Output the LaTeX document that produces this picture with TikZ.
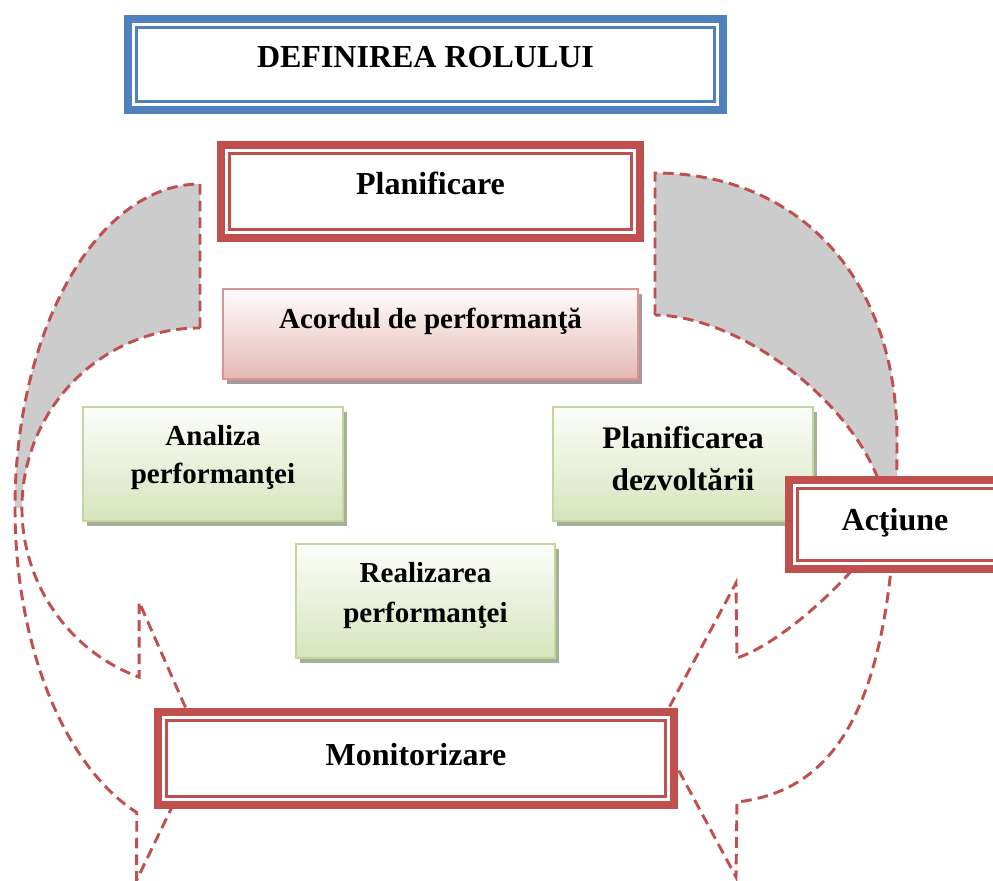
\documentclass[tikz,border=0pt]{standalone}
\usepackage{fontspec}
\setmainfont{Liberation Serif}
\usetikzlibrary{calc}

\definecolor{accred}{RGB}{192,80,77}
\definecolor{accblue}{RGB}{79,129,189}
\definecolor{bandgray}{RGB}{204,204,204}
\definecolor{pinkedge}{RGB}{217,149,148}
\definecolor{pinktop}{RGB}{254,252,252}
\definecolor{pinkbottom}{RGB}{229,184,183}
\definecolor{pinkshadow}{RGB}{172,152,152}
\definecolor{greenedge}{RGB}{195,214,155}
\definecolor{greentop}{RGB}{252,253,250}
\definecolor{greenbottom}{RGB}{215,228,189}
\definecolor{greenshadow}{RGB}{166,176,150}

\tikzset{
  framebox/.style={line width=6pt, fill=white, inner sep=0pt, outer sep=0pt},
  redframe/.style={framebox, draw=accred},
  blueframe/.style={framebox, draw=accblue},
  innerline/.style={line width=1.9pt},
  softbox/.style={inner sep=0pt, outer sep=0pt, line width=1.5pt},
  pinkbox/.style={softbox, draw=pinkedge, top color=pinktop, bottom color=pinkbottom,
    preaction={fill=pinkshadow, transform canvas={xshift=3pt, yshift=-3.5pt}}},
  greenbox/.style={softbox, draw=greenedge, top color=greentop, bottom color=greenbottom,
    preaction={fill=greenshadow, transform canvas={xshift=3pt, yshift=-3.5pt}}},
  bandline/.style={draw=accred, line width=2.2pt, dash pattern=on 8pt off 4.5pt},
  bigtext/.style={font=\bfseries\fontsize{24}{28}\selectfont, anchor=base, inner sep=0pt},
  midtext/.style={font=\bfseries\fontsize{21.75}{26}\selectfont, anchor=base, inner sep=0pt},
  devtext/.style={font=\bfseries\fontsize{23.5}{28}\selectfont, anchor=base, inner sep=0pt},
}

\begin{document}
\begin{tikzpicture}[x=0.75pt, y=-0.75pt]
  \useasboundingbox (0,0) rectangle (993,881);
  \clip (0,0) rectangle (993,881);
  \fill[white] (0,0) rectangle (993,881);

  % left curved band: shaded back face
  \fill[bandgray] (200,184) arc[start angle=-90, end angle=-180, x radius=185, y radius=324]
    -- (22,508) arc[start angle=180, end angle=270, x radius=178, y radius=180] -- cycle;
  % left curved band outline with arrowhead
  \draw[bandline] (200,328) -- (200,184)
    arc[start angle=-90, end angle=-250, x radius=185, y radius=324]
    -- (136.7,880) -- (202,745) -- (139.1,602) -- (139.1,677.1)
    arc[start angle=-250, end angle=-90, x radius=178, y radius=180];

  % right curved band: shaded back face
  \fill[bandgray] (655,173) .. controls (800,173) and (897,280) .. (897,440)
    -- (897,520) -- (888,520) .. controls (880,420) and (748,316) .. (655,315) -- cycle;
  % right curved band outline with arrowhead
  \draw[bandline] (655,315) -- (655,173)
    .. controls (800,173) and (897,280) .. (897,440)
    .. controls (897,700) and (840,790) .. (737,802)
    -- (736,877) -- (657,730) -- (736,583) -- (737,658)
    .. controls (790,640) and (870,560) .. (888,520)
    .. controls (880,420) and (748,316) .. (655,315);

  % framed stage boxes
  \node[blueframe, minimum width=446.25pt, minimum height=68.25pt] (role) at (425.5,64.5) {};
  \node[redframe, minimum width=314.25pt, minimum height=69.75pt] (plan) at (430.5,191.5) {};
  \node[redframe, minimum width=387pt, minimum height=69.75pt] (mon) at (416,758.5) {};

  % shaded activity boxes
  \node[pinkbox, minimum width=311.25pt, minimum height=67.5pt] (accord) at (430.5,334) {};
  \node[greenbox, minimum width=195pt, minimum height=85.5pt] (anal) at (213,464) {};
  \node[greenbox, minimum width=195pt, minimum height=85.5pt] (dev) at (683,464) {};
  \node[greenbox, minimum width=194.25pt, minimum height=85.5pt] (real) at (425.5,601) {};

  \node[redframe, minimum width=167.25pt, minimum height=66.75pt] (act) at (900.5,524.5) {};

  % thin inner lines of the framed boxes
  \draw[innerline, accblue] ([shift={(8.3,8.3)}]role.north west) rectangle ([shift={(-8.3,-8.3)}]role.south east);
  \foreach \n in {plan,mon,act}
    \draw[innerline, accred] ([shift={(8.3,8.3)}]\n.north west) rectangle ([shift={(-8.3,-8.3)}]\n.south east);

  % texts
  \node[bigtext] (troleA) at (425.5,68) {DEFINIREA ROLULUI};
  \node[bigtext] (tplan) at (430.5,195) {Planificare};
  \node[midtext] (taccord) at (430.5,328) {Acordul de performanţă};
  \node[midtext] (tanalA) at (213,445) {Analiza};
  \node[midtext] (tanalB) at (213,483) {performanţei};
  \node[devtext] (tdevA) at (683,448) {Planificarea};
  \node[devtext] (tdevB) at (683,490) {dezvoltării};
  \node[midtext] (trealA) at (425.5,582) {Realizarea};
  \node[midtext] (trealB) at (425.5,622) {performanţei};
  \node[bigtext] (tact) at (895,530) {Acţiune};
  \node[bigtext] (tmon) at (416,765) {Monitorizare};
\end{tikzpicture}
\end{document}
